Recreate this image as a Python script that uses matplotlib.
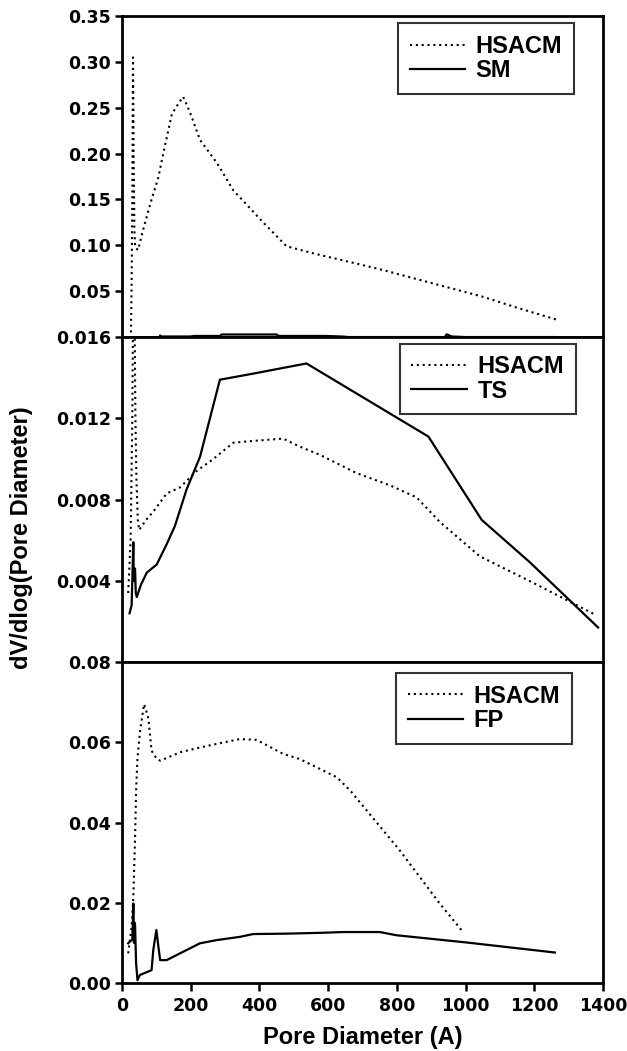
import matplotlib
matplotlib.use("Agg")
import matplotlib.pyplot as plt

# top panel: HSACM vs SM
top_hsacm_x = [26, 28, 30, 31, 32, 33, 34, 35, 36, 38, 40, 47, 60, 86, 105, 120, 145, 165, 178, 190, 203, 227, 276,
               324, 411, 479, 560, 650, 750, 850, 950, 1050, 1150, 1265]
top_hsacm_y = [0.005, 0.06, 0.15, 0.22, 0.305, 0.25, 0.19, 0.16, 0.12, 0.10, 0.097, 0.095, 0.115, 0.15, 0.173, 0.20,
               0.243, 0.255, 0.262, 0.252, 0.240, 0.215, 0.19, 0.16, 0.125, 0.099, 0.091, 0.083, 0.074, 0.064, 0.054,
               0.044, 0.032, 0.019]
top_sm_x = [111, 115, 200, 210, 285, 290, 450, 455, 590, 640, 660, 940, 945, 960, 1000, 1265]
top_sm_y = [0.0015, 0.0006, 0.0006, 0.0012, 0.0012, 0.0028, 0.0028, 0.0012, 0.0012, 0.0006, 0.0, 0.0, 0.003, 0.0006,
            0.0, 0.0]

# middle panel: HSACM vs TS
mid_hsacm_x = [18, 25, 30, 33, 36, 39, 42, 46, 50, 70, 91, 130, 169, 217, 266, 324, 392, 469, 518, 576, 683, 780,
               858, 925, 1042, 1197, 1381]
mid_hsacm_y = [0.0034, 0.006, 0.012, 0.020, 0.018, 0.012, 0.009, 0.007, 0.0065, 0.007, 0.0074, 0.0083, 0.0086,
               0.0094, 0.0100, 0.0108, 0.0109, 0.0110, 0.0106, 0.0102, 0.0093, 0.0087, 0.0081, 0.0069, 0.0052,
               0.0039, 0.0023]
mid_ts_x = [22, 28, 33, 34, 36, 38, 40, 43, 55, 72, 101, 130, 154, 188, 227, 285, 382, 537, 892, 1047, 1188, 1386]
mid_ts_y = [0.0024, 0.0028, 0.0059, 0.0040, 0.0046, 0.0046, 0.0034, 0.0032, 0.0038, 0.0044, 0.0048, 0.0058, 0.0067,
            0.0085, 0.0101, 0.0139, 0.0142, 0.0147, 0.0111, 0.0070, 0.0049, 0.0017]

# bottom panel: HSACM vs FP
bot_hsacm_x = [18, 28, 33, 38, 41, 45, 52, 64, 70, 77, 86, 100, 111, 169, 227, 276, 343, 392, 469, 518, 625, 664,
               809, 925, 993]
bot_hsacm_y = [0.0074, 0.014, 0.0214, 0.036, 0.048, 0.056, 0.0624, 0.0695, 0.068, 0.0658, 0.0579, 0.056, 0.0554,
               0.0575, 0.0587, 0.0596, 0.0608, 0.0606, 0.0571, 0.0558, 0.0513, 0.048, 0.033, 0.0198, 0.0127]
bot_fp_x = [18, 25, 30, 33, 35, 37, 38, 41, 45, 52, 86, 91, 96, 100, 106, 111, 130, 169, 227, 276, 343, 382, 479,
            576, 644, 751, 799, 1003, 1260]
bot_fp_y = [0.0099, 0.0105, 0.0107, 0.0198, 0.0100, 0.0150, 0.0144, 0.0049, 0.0007, 0.002, 0.0032, 0.0082, 0.0110,
            0.0132, 0.009, 0.0057, 0.0057, 0.0074, 0.0099, 0.0107, 0.0115, 0.0122, 0.0123, 0.0125, 0.0127, 0.0127,
            0.0119, 0.0101, 0.0076]

top_ticks = [0.05, 0.10, 0.15, 0.20, 0.25, 0.30, 0.35]
mid_ticks = [0.004, 0.008, 0.012, 0.016]
bot_ticks = [0.00, 0.02, 0.04, 0.06, 0.08]
x_ticks = [0, 200, 400, 600, 800, 1000, 1200, 1400]

fig = plt.figure(figsize=(6.27, 10.51), dpi=100)
left, width = 0.1946, 0.767
ax_top = fig.add_axes([left, 0.6793, width, 0.3054])
ax_mid = fig.add_axes([left, 0.3701, width, 0.3092])
ax_bot = fig.add_axes([left, 0.0647, width, 0.3054])

dot = (0, (1, 1.8))
tick_font = dict(family="DejaVu Sans", weight="bold", size=12.5)
label_font = dict(family="Liberation Sans", weight="bold", size=17)

panels = [
    (ax_top, top_hsacm_x, top_hsacm_y, top_sm_x, top_sm_y, "SM", (0, 0.35), top_ticks, "%.2f", (0.94, 0.978)),
    (ax_mid, mid_hsacm_x, mid_hsacm_y, mid_ts_x, mid_ts_y, "TS", (0, 0.016), mid_ticks, "%.3f", (0.944, 0.98)),
    (ax_bot, bot_hsacm_x, bot_hsacm_y, bot_fp_x, bot_fp_y, "FP", (0, 0.08), bot_ticks, "%.2f", (0.936, 0.966)),
]

for ax, hx, hy, sx, sy, name, ylim, yt, fmt, anchor in panels:
    ax.plot(hx, hy, color="black", linestyle=dot, linewidth=1.5, label="HSACM")
    ax.plot(sx, sy, color="black", linestyle="-", linewidth=1.6, label=name)
    ax.set_xlim(0, 1400)
    ax.set_ylim(*ylim)
    ax.set_yticks(yt)
    ax.set_yticklabels([fmt % t for t in yt], fontdict=tick_font)
    ax.tick_params(axis="y", direction="out", length=5, width=1.8, pad=3)
    for sp in ax.spines.values():
        sp.set_linewidth(2.0)
    leg = ax.legend(loc="upper right", bbox_to_anchor=anchor, borderaxespad=0, frameon=True, fancybox=False,
                    prop=dict(family="Liberation Sans", weight="bold", size=17), handlelength=2.35,
                    handletextpad=0.45, labelspacing=0.05, borderpad=0.5)
    leg.get_frame().set_edgecolor("black")
    leg.get_frame().set_linewidth(1.5)

for ax in (ax_top, ax_mid):
    ax.set_xticks([])

ax_bot.set_xticks(x_ticks)
ax_bot.set_xticklabels([str(t) for t in x_ticks], fontdict=tick_font)
ax_bot.tick_params(axis="x", direction="out", length=6, width=1.8, pad=4)
ax_bot.set_xlabel("Pore Diameter (A)", fontdict=label_font, labelpad=8)

fig.text(22 / 627, 1 - 538 / 1051, "dV/dlog(Pore Diameter)", rotation=90, ha="center", va="center", **label_font)

fig.savefig("out.png", dpi=100)
